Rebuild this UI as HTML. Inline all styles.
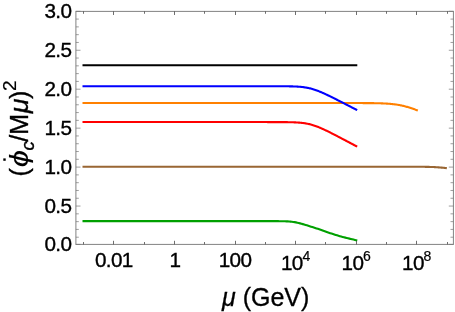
<!DOCTYPE html>
<html><head><meta charset="utf-8"><title>plot</title>
<style>html,body{margin:0;padding:0;background:#fff;overflow:hidden}svg{display:block;will-change:transform}.t{font-family:"Liberation Sans",sans-serif}</style>
</head><body>
<svg width="455" height="312" viewBox="0 0 455 312">
<rect width="455" height="312" fill="#fff"/>
<path d="M83.55 65.29 L84.31 65.29 L85.06 65.29 L85.82 65.29 L86.58 65.29 L87.34 65.29 L88.09 65.29 L88.85 65.29 L89.61 65.29 L90.37 65.29 L91.12 65.29 L91.88 65.29 L92.64 65.29 L93.40 65.29 L94.15 65.29 L94.91 65.29 L95.67 65.29 L96.43 65.29 L97.18 65.29 L97.94 65.29 L98.70 65.29 L99.46 65.29 L100.21 65.29 L100.97 65.29 L101.73 65.29 L102.49 65.29 L103.24 65.29 L104.00 65.29 L104.76 65.29 L105.52 65.29 L106.27 65.29 L107.03 65.29 L107.79 65.29 L108.55 65.29 L109.30 65.29 L110.06 65.29 L110.82 65.29 L111.58 65.29 L112.33 65.29 L113.09 65.29 L113.85 65.29 L114.61 65.29 L115.36 65.29 L116.12 65.29 L116.88 65.29 L117.64 65.29 L118.39 65.29 L119.15 65.29 L119.91 65.29 L120.67 65.29 L121.42 65.29 L122.18 65.29 L122.94 65.29 L123.70 65.29 L124.45 65.29 L125.21 65.29 L125.97 65.29 L126.73 65.29 L127.48 65.29 L128.24 65.29 L129.00 65.29 L129.76 65.29 L130.51 65.29 L131.27 65.29 L132.03 65.29 L132.79 65.29 L133.54 65.29 L134.30 65.29 L135.06 65.29 L135.82 65.29 L136.57 65.29 L137.33 65.29 L138.09 65.29 L138.85 65.29 L139.60 65.29 L140.36 65.29 L141.12 65.29 L141.88 65.29 L142.63 65.29 L143.39 65.29 L144.15 65.29 L144.91 65.29 L145.66 65.29 L146.42 65.29 L147.18 65.29 L147.94 65.29 L148.69 65.29 L149.45 65.29 L150.21 65.29 L150.97 65.29 L151.72 65.29 L152.48 65.29 L153.24 65.29 L154.00 65.29 L154.75 65.29 L155.51 65.29 L156.27 65.29 L157.03 65.29 L157.78 65.29 L158.54 65.29 L159.30 65.29 L160.06 65.29 L160.81 65.29 L161.57 65.29 L162.33 65.29 L163.09 65.29 L163.84 65.29 L164.60 65.29 L165.36 65.29 L166.12 65.29 L166.88 65.29 L167.63 65.29 L168.39 65.29 L169.15 65.29 L169.91 65.29 L170.66 65.29 L171.42 65.29 L172.18 65.29 L172.94 65.29 L173.69 65.29 L174.45 65.29 L175.21 65.29 L175.96 65.29 L176.72 65.29 L177.48 65.29 L178.24 65.29 L178.99 65.29 L179.75 65.29 L180.51 65.29 L181.27 65.29 L182.02 65.29 L182.78 65.29 L183.54 65.29 L184.30 65.29 L185.05 65.29 L185.81 65.29 L186.57 65.29 L187.33 65.29 L188.08 65.29 L188.84 65.29 L189.60 65.29 L190.36 65.29 L191.11 65.29 L191.87 65.29 L192.63 65.29 L193.39 65.29 L194.14 65.29 L194.90 65.29 L195.66 65.29 L196.42 65.29 L197.17 65.29 L197.93 65.29 L198.69 65.29 L199.45 65.29 L200.20 65.29 L200.96 65.29 L201.72 65.29 L202.48 65.29 L203.23 65.29 L203.99 65.29 L204.75 65.29 L205.51 65.29 L206.26 65.29 L207.02 65.29 L207.78 65.29 L208.54 65.29 L209.30 65.29 L210.05 65.29 L210.81 65.29 L211.57 65.29 L212.32 65.29 L213.08 65.29 L213.84 65.29 L214.60 65.29 L215.35 65.29 L216.11 65.29 L216.87 65.29 L217.63 65.29 L218.38 65.29 L219.14 65.29 L219.90 65.29 L220.66 65.29 L221.41 65.29 L222.17 65.29 L222.93 65.29 L223.69 65.29 L224.44 65.29 L225.20 65.29 L225.96 65.29 L226.72 65.29 L227.47 65.29 L228.23 65.29 L228.99 65.29 L229.75 65.29 L230.50 65.29 L231.26 65.29 L232.02 65.29 L232.78 65.29 L233.53 65.29 L234.29 65.29 L235.05 65.29 L235.81 65.29 L236.56 65.29 L237.32 65.29 L238.08 65.29 L238.84 65.29 L239.59 65.29 L240.35 65.29 L241.11 65.29 L241.87 65.29 L242.62 65.29 L243.38 65.29 L244.14 65.29 L244.90 65.29 L245.65 65.29 L246.41 65.29 L247.17 65.29 L247.93 65.29 L248.69 65.29 L249.44 65.29 L250.20 65.29 L250.96 65.29 L251.71 65.29 L252.47 65.29 L253.23 65.29 L253.99 65.29 L254.75 65.29 L255.50 65.29 L256.26 65.29 L257.02 65.29 L257.77 65.29 L258.53 65.29 L259.29 65.29 L260.05 65.29 L260.80 65.29 L261.56 65.29 L262.32 65.29 L263.08 65.29 L263.83 65.29 L264.59 65.29 L265.35 65.29 L266.11 65.29 L266.87 65.29 L267.62 65.29 L268.38 65.29 L269.14 65.29 L269.89 65.29 L270.65 65.29 L271.41 65.29 L272.17 65.29 L272.93 65.29 L273.68 65.29 L274.44 65.29 L275.20 65.29 L275.95 65.29 L276.71 65.29 L277.47 65.29 L278.23 65.29 L278.99 65.29 L279.74 65.29 L280.50 65.29 L281.26 65.29 L282.01 65.29 L282.77 65.29 L283.53 65.29 L284.29 65.29 L285.05 65.29 L285.80 65.29 L286.56 65.29 L287.32 65.29 L288.07 65.29 L288.83 65.29 L289.59 65.29 L290.35 65.29 L291.10 65.29 L291.86 65.29 L292.62 65.29 L293.38 65.29 L294.13 65.29 L294.89 65.29 L295.65 65.29 L296.41 65.29 L297.16 65.29 L297.92 65.29 L298.68 65.29 L299.44 65.29 L300.19 65.29 L300.95 65.29 L301.71 65.29 L302.47 65.29 L303.23 65.29 L303.98 65.29 L304.74 65.29 L305.50 65.29 L306.25 65.29 L307.01 65.29 L307.77 65.29 L308.53 65.29 L309.28 65.29 L310.04 65.29 L310.80 65.29 L311.56 65.29 L312.31 65.29 L313.07 65.29 L313.83 65.29 L314.59 65.29 L315.35 65.29 L316.10 65.29 L316.86 65.29 L317.62 65.29 L318.38 65.29 L319.13 65.29 L319.89 65.29 L320.65 65.29 L321.40 65.29 L322.16 65.29 L322.92 65.29 L323.68 65.29 L324.44 65.29 L325.19 65.29 L325.95 65.29 L326.71 65.29 L327.47 65.29 L328.22 65.29 L328.98 65.29 L329.74 65.29 L330.50 65.29 L331.25 65.29 L332.01 65.29 L332.77 65.29 L333.52 65.29 L334.28 65.29 L335.04 65.29 L335.80 65.29 L336.55 65.29 L337.31 65.29 L338.07 65.29 L338.83 65.29 L339.58 65.29 L340.34 65.29 L341.10 65.29 L341.86 65.29 L342.62 65.29 L343.37 65.29 L344.13 65.29 L344.89 65.29 L345.64 65.29 L346.40 65.29 L347.16 65.29 L347.92 65.29 L348.67 65.29 L349.43 65.29 L350.19 65.29 L350.95 65.29 L351.70 65.29 L352.46 65.29 L353.22 65.29 L353.98 65.29 L354.74 65.29 L355.49 65.29 L356.25 65.29" fill="none" stroke="#000000" stroke-width="2.1" stroke-linecap="square" stroke-linejoin="round"/>
<path d="M83.55 103.04 L84.31 103.04 L85.06 103.04 L85.82 103.04 L86.58 103.04 L87.34 103.04 L88.09 103.04 L88.85 103.04 L89.61 103.04 L90.37 103.04 L91.12 103.04 L91.88 103.04 L92.64 103.04 L93.40 103.04 L94.15 103.04 L94.91 103.04 L95.67 103.04 L96.43 103.04 L97.18 103.04 L97.94 103.04 L98.70 103.04 L99.46 103.04 L100.21 103.04 L100.97 103.04 L101.73 103.04 L102.49 103.04 L103.24 103.04 L104.00 103.04 L104.76 103.04 L105.52 103.04 L106.27 103.04 L107.03 103.04 L107.79 103.04 L108.55 103.04 L109.30 103.04 L110.06 103.04 L110.82 103.04 L111.58 103.04 L112.33 103.04 L113.09 103.04 L113.85 103.04 L114.61 103.04 L115.36 103.04 L116.12 103.04 L116.88 103.04 L117.64 103.04 L118.39 103.04 L119.15 103.04 L119.91 103.04 L120.67 103.04 L121.42 103.04 L122.18 103.04 L122.94 103.04 L123.70 103.04 L124.45 103.04 L125.21 103.04 L125.97 103.04 L126.73 103.04 L127.48 103.04 L128.24 103.04 L129.00 103.04 L129.76 103.04 L130.51 103.04 L131.27 103.04 L132.03 103.04 L132.79 103.04 L133.54 103.04 L134.30 103.04 L135.06 103.04 L135.82 103.04 L136.57 103.04 L137.33 103.04 L138.09 103.04 L138.85 103.04 L139.60 103.04 L140.36 103.04 L141.12 103.04 L141.88 103.04 L142.63 103.04 L143.39 103.04 L144.15 103.04 L144.91 103.04 L145.66 103.04 L146.42 103.04 L147.18 103.04 L147.94 103.04 L148.69 103.04 L149.45 103.04 L150.21 103.04 L150.97 103.04 L151.72 103.04 L152.48 103.04 L153.24 103.04 L154.00 103.04 L154.75 103.04 L155.51 103.04 L156.27 103.04 L157.03 103.04 L157.78 103.04 L158.54 103.04 L159.30 103.04 L160.06 103.04 L160.81 103.04 L161.57 103.04 L162.33 103.04 L163.09 103.04 L163.84 103.04 L164.60 103.04 L165.36 103.04 L166.12 103.04 L166.88 103.04 L167.63 103.04 L168.39 103.04 L169.15 103.04 L169.91 103.04 L170.66 103.04 L171.42 103.04 L172.18 103.04 L172.94 103.04 L173.69 103.04 L174.45 103.04 L175.21 103.04 L175.96 103.04 L176.72 103.04 L177.48 103.04 L178.24 103.04 L178.99 103.04 L179.75 103.04 L180.51 103.04 L181.27 103.04 L182.02 103.04 L182.78 103.04 L183.54 103.04 L184.30 103.04 L185.05 103.04 L185.81 103.04 L186.57 103.04 L187.33 103.04 L188.08 103.04 L188.84 103.04 L189.60 103.04 L190.36 103.04 L191.11 103.04 L191.87 103.04 L192.63 103.04 L193.39 103.04 L194.14 103.04 L194.90 103.04 L195.66 103.04 L196.42 103.04 L197.17 103.04 L197.93 103.04 L198.69 103.04 L199.45 103.04 L200.20 103.04 L200.96 103.04 L201.72 103.04 L202.48 103.04 L203.23 103.04 L203.99 103.04 L204.75 103.04 L205.51 103.04 L206.26 103.04 L207.02 103.04 L207.78 103.04 L208.54 103.04 L209.30 103.04 L210.05 103.04 L210.81 103.04 L211.57 103.04 L212.32 103.04 L213.08 103.04 L213.84 103.04 L214.60 103.04 L215.35 103.04 L216.11 103.04 L216.87 103.04 L217.63 103.04 L218.38 103.04 L219.14 103.04 L219.90 103.04 L220.66 103.04 L221.41 103.04 L222.17 103.04 L222.93 103.04 L223.69 103.04 L224.44 103.04 L225.20 103.04 L225.96 103.04 L226.72 103.04 L227.47 103.04 L228.23 103.04 L228.99 103.04 L229.75 103.04 L230.50 103.04 L231.26 103.04 L232.02 103.04 L232.78 103.04 L233.53 103.04 L234.29 103.04 L235.05 103.04 L235.81 103.04 L236.56 103.04 L237.32 103.04 L238.08 103.04 L238.84 103.04 L239.59 103.04 L240.35 103.04 L241.11 103.04 L241.87 103.04 L242.62 103.04 L243.38 103.04 L244.14 103.04 L244.90 103.04 L245.65 103.04 L246.41 103.04 L247.17 103.04 L247.93 103.04 L248.69 103.04 L249.44 103.04 L250.20 103.04 L250.96 103.04 L251.71 103.04 L252.47 103.04 L253.23 103.04 L253.99 103.04 L254.75 103.04 L255.50 103.04 L256.26 103.04 L257.02 103.04 L257.77 103.04 L258.53 103.04 L259.29 103.04 L260.05 103.04 L260.80 103.04 L261.56 103.04 L262.32 103.04 L263.08 103.04 L263.83 103.04 L264.59 103.04 L265.35 103.04 L266.11 103.04 L266.87 103.04 L267.62 103.04 L268.38 103.04 L269.14 103.04 L269.89 103.04 L270.65 103.04 L271.41 103.04 L272.17 103.04 L272.93 103.04 L273.68 103.04 L274.44 103.04 L275.20 103.04 L275.95 103.04 L276.71 103.04 L277.47 103.04 L278.23 103.04 L278.99 103.04 L279.74 103.04 L280.50 103.04 L281.26 103.04 L282.01 103.04 L282.77 103.04 L283.53 103.04 L284.29 103.04 L285.05 103.04 L285.80 103.04 L286.56 103.04 L287.32 103.04 L288.07 103.04 L288.83 103.04 L289.59 103.04 L290.35 103.04 L291.10 103.04 L291.86 103.04 L292.62 103.04 L293.38 103.04 L294.13 103.04 L294.89 103.04 L295.65 103.04 L296.41 103.04 L297.16 103.04 L297.92 103.04 L298.68 103.04 L299.44 103.04 L300.19 103.04 L300.95 103.04 L301.71 103.04 L302.47 103.04 L303.23 103.04 L303.98 103.04 L304.74 103.04 L305.50 103.04 L306.25 103.04 L307.01 103.04 L307.77 103.04 L308.53 103.04 L309.28 103.04 L310.04 103.04 L310.80 103.04 L311.56 103.04 L312.31 103.04 L313.07 103.04 L313.83 103.04 L314.59 103.04 L315.35 103.04 L316.10 103.04 L316.86 103.04 L317.62 103.04 L318.38 103.04 L319.13 103.04 L319.89 103.04 L320.65 103.04 L321.40 103.04 L322.16 103.04 L322.92 103.04 L323.68 103.04 L324.44 103.04 L325.19 103.04 L325.95 103.04 L326.71 103.04 L327.47 103.04 L328.22 103.04 L328.98 103.04 L329.74 103.04 L330.50 103.04 L331.25 103.04 L332.01 103.04 L332.77 103.04 L333.52 103.04 L334.28 103.04 L335.04 103.04 L335.80 103.04 L336.55 103.04 L337.31 103.04 L338.07 103.04 L338.83 103.04 L339.58 103.04 L340.34 103.04 L341.10 103.04 L341.86 103.04 L342.62 103.04 L343.37 103.04 L344.13 103.04 L344.89 103.04 L345.64 103.05 L346.40 103.05 L347.16 103.05 L347.92 103.05 L348.67 103.05 L349.43 103.05 L350.19 103.05 L350.95 103.05 L351.70 103.05 L352.46 103.05 L353.22 103.05 L353.98 103.05 L354.74 103.05 L355.49 103.06 L356.25 103.06 L357.01 103.06 L357.76 103.06 L358.52 103.06 L359.28 103.06 L360.04 103.07 L360.80 103.07 L361.55 103.07 L362.31 103.07 L363.07 103.08 L363.82 103.08 L364.58 103.08 L365.34 103.09 L366.10 103.09 L366.86 103.10 L367.61 103.10 L368.37 103.11 L369.13 103.12 L369.88 103.12 L370.64 103.13 L371.40 103.14 L372.16 103.15 L372.92 103.16 L373.67 103.17 L374.43 103.18 L375.19 103.19 L375.94 103.21 L376.70 103.22 L377.46 103.24 L378.22 103.26 L378.98 103.28 L379.73 103.30 L380.49 103.32 L381.25 103.35 L382.00 103.37 L382.76 103.40 L383.52 103.44 L384.28 103.47 L385.03 103.51 L385.79 103.55 L386.55 103.59 L387.31 103.64 L388.07 103.69 L388.82 103.75 L389.58 103.81 L390.34 103.87 L391.10 103.94 L391.85 104.01 L392.61 104.09 L393.37 104.18 L394.12 104.27 L394.88 104.37 L395.64 104.47 L396.40 104.58 L397.15 104.70 L397.91 104.82 L398.67 104.95 L399.43 105.09 L400.18 105.23 L400.94 105.39 L401.70 105.55 L402.46 105.71 L403.22 105.89 L403.97 106.07 L404.73 106.26 L405.49 106.46 L406.25 106.66 L407.00 106.88 L407.76 107.10 L408.52 107.32 L409.27 107.55 L410.03 107.79 L410.79 108.04 L411.55 108.29 L412.30 108.55 L413.06 108.81 L413.82 109.08 L414.58 109.35 L415.33 109.63 L416.09 109.91 L416.85 110.20" fill="none" stroke="#ff8000" stroke-width="2.1" stroke-linecap="square" stroke-linejoin="round"/>
<path d="M83.55 86.19 L84.31 86.19 L85.06 86.19 L85.82 86.19 L86.58 86.19 L87.34 86.19 L88.09 86.19 L88.85 86.19 L89.61 86.19 L90.37 86.19 L91.12 86.19 L91.88 86.19 L92.64 86.19 L93.40 86.19 L94.15 86.19 L94.91 86.19 L95.67 86.19 L96.43 86.19 L97.18 86.19 L97.94 86.19 L98.70 86.19 L99.46 86.19 L100.21 86.19 L100.97 86.19 L101.73 86.19 L102.49 86.19 L103.24 86.19 L104.00 86.19 L104.76 86.19 L105.52 86.19 L106.27 86.19 L107.03 86.19 L107.79 86.19 L108.55 86.19 L109.30 86.19 L110.06 86.19 L110.82 86.19 L111.58 86.19 L112.33 86.19 L113.09 86.19 L113.85 86.19 L114.61 86.19 L115.36 86.19 L116.12 86.19 L116.88 86.19 L117.64 86.19 L118.39 86.19 L119.15 86.19 L119.91 86.19 L120.67 86.19 L121.42 86.19 L122.18 86.19 L122.94 86.19 L123.70 86.19 L124.45 86.19 L125.21 86.19 L125.97 86.19 L126.73 86.19 L127.48 86.19 L128.24 86.19 L129.00 86.19 L129.76 86.19 L130.51 86.19 L131.27 86.19 L132.03 86.19 L132.79 86.19 L133.54 86.19 L134.30 86.19 L135.06 86.19 L135.82 86.19 L136.57 86.19 L137.33 86.19 L138.09 86.19 L138.85 86.19 L139.60 86.19 L140.36 86.19 L141.12 86.19 L141.88 86.19 L142.63 86.19 L143.39 86.19 L144.15 86.19 L144.91 86.19 L145.66 86.19 L146.42 86.19 L147.18 86.19 L147.94 86.19 L148.69 86.19 L149.45 86.19 L150.21 86.19 L150.97 86.19 L151.72 86.19 L152.48 86.19 L153.24 86.19 L154.00 86.19 L154.75 86.19 L155.51 86.19 L156.27 86.19 L157.03 86.19 L157.78 86.19 L158.54 86.19 L159.30 86.19 L160.06 86.19 L160.81 86.19 L161.57 86.19 L162.33 86.19 L163.09 86.19 L163.84 86.19 L164.60 86.19 L165.36 86.19 L166.12 86.19 L166.88 86.19 L167.63 86.19 L168.39 86.19 L169.15 86.19 L169.91 86.19 L170.66 86.19 L171.42 86.19 L172.18 86.19 L172.94 86.19 L173.69 86.19 L174.45 86.19 L175.21 86.19 L175.96 86.19 L176.72 86.19 L177.48 86.19 L178.24 86.19 L178.99 86.19 L179.75 86.19 L180.51 86.19 L181.27 86.19 L182.02 86.19 L182.78 86.19 L183.54 86.19 L184.30 86.19 L185.05 86.19 L185.81 86.19 L186.57 86.19 L187.33 86.19 L188.08 86.19 L188.84 86.19 L189.60 86.19 L190.36 86.19 L191.11 86.19 L191.87 86.19 L192.63 86.19 L193.39 86.19 L194.14 86.19 L194.90 86.19 L195.66 86.19 L196.42 86.19 L197.17 86.19 L197.93 86.19 L198.69 86.19 L199.45 86.19 L200.20 86.19 L200.96 86.19 L201.72 86.19 L202.48 86.19 L203.23 86.19 L203.99 86.19 L204.75 86.19 L205.51 86.19 L206.26 86.19 L207.02 86.19 L207.78 86.19 L208.54 86.19 L209.30 86.19 L210.05 86.19 L210.81 86.19 L211.57 86.19 L212.32 86.19 L213.08 86.19 L213.84 86.19 L214.60 86.19 L215.35 86.19 L216.11 86.19 L216.87 86.19 L217.63 86.19 L218.38 86.19 L219.14 86.19 L219.90 86.19 L220.66 86.19 L221.41 86.19 L222.17 86.19 L222.93 86.19 L223.69 86.19 L224.44 86.19 L225.20 86.19 L225.96 86.19 L226.72 86.19 L227.47 86.19 L228.23 86.19 L228.99 86.19 L229.75 86.19 L230.50 86.19 L231.26 86.19 L232.02 86.19 L232.78 86.19 L233.53 86.19 L234.29 86.19 L235.05 86.19 L235.81 86.19 L236.56 86.19 L237.32 86.19 L238.08 86.19 L238.84 86.19 L239.59 86.19 L240.35 86.19 L241.11 86.19 L241.87 86.19 L242.62 86.19 L243.38 86.19 L244.14 86.19 L244.90 86.19 L245.65 86.19 L246.41 86.19 L247.17 86.19 L247.93 86.19 L248.69 86.19 L249.44 86.19 L250.20 86.19 L250.96 86.19 L251.71 86.19 L252.47 86.19 L253.23 86.19 L253.99 86.19 L254.75 86.19 L255.50 86.19 L256.26 86.19 L257.02 86.19 L257.77 86.19 L258.53 86.19 L259.29 86.19 L260.05 86.19 L260.80 86.19 L261.56 86.19 L262.32 86.19 L263.08 86.19 L263.83 86.19 L264.59 86.19 L265.35 86.19 L266.11 86.19 L266.87 86.19 L267.62 86.19 L268.38 86.19 L269.14 86.19 L269.89 86.19 L270.65 86.19 L271.41 86.20 L272.17 86.20 L272.93 86.20 L273.68 86.20 L274.44 86.20 L275.20 86.20 L275.95 86.20 L276.71 86.21 L277.47 86.21 L278.23 86.21 L278.99 86.22 L279.74 86.22 L280.50 86.22 L281.26 86.23 L282.01 86.23 L282.77 86.24 L283.53 86.24 L284.29 86.25 L285.05 86.26 L285.80 86.27 L286.56 86.28 L287.32 86.29 L288.07 86.30 L288.83 86.31 L289.59 86.33 L290.35 86.34 L291.10 86.36 L291.86 86.38 L292.62 86.40 L293.38 86.43 L294.13 86.46 L294.89 86.49 L295.65 86.52 L296.41 86.56 L297.16 86.60 L297.92 86.65 L298.68 86.70 L299.44 86.76 L300.19 86.82 L300.95 86.89 L301.71 86.97 L302.47 87.05 L303.23 87.14 L303.98 87.24 L304.74 87.35 L305.50 87.47 L306.25 87.60 L307.01 87.73 L307.77 87.88 L308.53 88.04 L309.28 88.20 L310.04 88.38 L310.80 88.57 L311.56 88.77 L312.31 88.99 L313.07 89.21 L313.83 89.44 L314.59 89.69 L315.35 89.94 L316.10 90.21 L316.86 90.48 L317.62 90.77 L318.38 91.06 L319.13 91.36 L319.89 91.67 L320.65 91.98 L321.40 92.30 L322.16 92.63 L322.92 92.96 L323.68 93.30 L324.44 93.65 L325.19 94.00 L325.95 94.35 L326.71 94.71 L327.47 95.07 L328.22 95.43 L328.98 95.79 L329.74 96.16 L330.50 96.53 L331.25 96.91 L332.01 97.28 L332.77 97.66 L333.52 98.04 L334.28 98.42 L335.04 98.80 L335.80 99.18 L336.55 99.56 L337.31 99.94 L338.07 100.33 L338.83 100.71 L339.58 101.10 L340.34 101.49 L341.10 101.87 L341.86 102.26 L342.62 102.65 L343.37 103.04 L344.13 103.42 L344.89 103.81 L345.64 104.20 L346.40 104.59 L347.16 104.98 L347.92 105.37 L348.67 105.76 L349.43 106.15 L350.19 106.54 L350.95 106.93 L351.70 107.32 L352.46 107.71 L353.22 108.10 L353.98 108.49 L354.74 108.88 L355.49 109.27 L356.25 109.67" fill="none" stroke="#0000ff" stroke-width="2.1" stroke-linecap="square" stroke-linejoin="round"/>
<path d="M83.55 122.07 L84.31 122.07 L85.06 122.07 L85.82 122.07 L86.58 122.07 L87.34 122.07 L88.09 122.07 L88.85 122.07 L89.61 122.07 L90.37 122.07 L91.12 122.07 L91.88 122.07 L92.64 122.07 L93.40 122.07 L94.15 122.07 L94.91 122.07 L95.67 122.07 L96.43 122.07 L97.18 122.07 L97.94 122.07 L98.70 122.07 L99.46 122.07 L100.21 122.07 L100.97 122.07 L101.73 122.07 L102.49 122.07 L103.24 122.07 L104.00 122.07 L104.76 122.07 L105.52 122.07 L106.27 122.07 L107.03 122.07 L107.79 122.07 L108.55 122.07 L109.30 122.07 L110.06 122.07 L110.82 122.07 L111.58 122.07 L112.33 122.07 L113.09 122.07 L113.85 122.07 L114.61 122.07 L115.36 122.07 L116.12 122.07 L116.88 122.07 L117.64 122.07 L118.39 122.07 L119.15 122.07 L119.91 122.07 L120.67 122.07 L121.42 122.07 L122.18 122.07 L122.94 122.07 L123.70 122.07 L124.45 122.07 L125.21 122.07 L125.97 122.07 L126.73 122.07 L127.48 122.07 L128.24 122.07 L129.00 122.07 L129.76 122.07 L130.51 122.07 L131.27 122.07 L132.03 122.07 L132.79 122.07 L133.54 122.07 L134.30 122.07 L135.06 122.07 L135.82 122.07 L136.57 122.07 L137.33 122.07 L138.09 122.07 L138.85 122.07 L139.60 122.07 L140.36 122.07 L141.12 122.07 L141.88 122.07 L142.63 122.07 L143.39 122.07 L144.15 122.07 L144.91 122.07 L145.66 122.07 L146.42 122.07 L147.18 122.07 L147.94 122.07 L148.69 122.07 L149.45 122.07 L150.21 122.07 L150.97 122.07 L151.72 122.07 L152.48 122.07 L153.24 122.07 L154.00 122.07 L154.75 122.07 L155.51 122.07 L156.27 122.07 L157.03 122.07 L157.78 122.07 L158.54 122.07 L159.30 122.07 L160.06 122.07 L160.81 122.07 L161.57 122.07 L162.33 122.07 L163.09 122.07 L163.84 122.07 L164.60 122.07 L165.36 122.07 L166.12 122.07 L166.88 122.07 L167.63 122.07 L168.39 122.07 L169.15 122.07 L169.91 122.07 L170.66 122.07 L171.42 122.07 L172.18 122.07 L172.94 122.07 L173.69 122.07 L174.45 122.07 L175.21 122.07 L175.96 122.07 L176.72 122.07 L177.48 122.07 L178.24 122.07 L178.99 122.07 L179.75 122.07 L180.51 122.07 L181.27 122.07 L182.02 122.07 L182.78 122.07 L183.54 122.07 L184.30 122.07 L185.05 122.07 L185.81 122.07 L186.57 122.07 L187.33 122.07 L188.08 122.07 L188.84 122.07 L189.60 122.07 L190.36 122.07 L191.11 122.07 L191.87 122.07 L192.63 122.07 L193.39 122.07 L194.14 122.07 L194.90 122.07 L195.66 122.07 L196.42 122.07 L197.17 122.07 L197.93 122.07 L198.69 122.07 L199.45 122.07 L200.20 122.07 L200.96 122.07 L201.72 122.07 L202.48 122.07 L203.23 122.07 L203.99 122.07 L204.75 122.07 L205.51 122.07 L206.26 122.07 L207.02 122.07 L207.78 122.07 L208.54 122.07 L209.30 122.07 L210.05 122.07 L210.81 122.07 L211.57 122.07 L212.32 122.07 L213.08 122.07 L213.84 122.07 L214.60 122.07 L215.35 122.07 L216.11 122.07 L216.87 122.07 L217.63 122.07 L218.38 122.07 L219.14 122.07 L219.90 122.07 L220.66 122.07 L221.41 122.07 L222.17 122.07 L222.93 122.07 L223.69 122.07 L224.44 122.07 L225.20 122.07 L225.96 122.07 L226.72 122.07 L227.47 122.07 L228.23 122.07 L228.99 122.07 L229.75 122.07 L230.50 122.07 L231.26 122.07 L232.02 122.07 L232.78 122.07 L233.53 122.07 L234.29 122.07 L235.05 122.07 L235.81 122.07 L236.56 122.07 L237.32 122.07 L238.08 122.07 L238.84 122.07 L239.59 122.07 L240.35 122.07 L241.11 122.07 L241.87 122.07 L242.62 122.07 L243.38 122.07 L244.14 122.07 L244.90 122.07 L245.65 122.07 L246.41 122.07 L247.17 122.07 L247.93 122.07 L248.69 122.07 L249.44 122.07 L250.20 122.07 L250.96 122.07 L251.71 122.07 L252.47 122.07 L253.23 122.07 L253.99 122.07 L254.75 122.07 L255.50 122.07 L256.26 122.07 L257.02 122.07 L257.77 122.07 L258.53 122.07 L259.29 122.07 L260.05 122.07 L260.80 122.07 L261.56 122.07 L262.32 122.07 L263.08 122.07 L263.83 122.07 L264.59 122.07 L265.35 122.07 L266.11 122.07 L266.87 122.07 L267.62 122.08 L268.38 122.08 L269.14 122.08 L269.89 122.08 L270.65 122.08 L271.41 122.08 L272.17 122.08 L272.93 122.08 L273.68 122.08 L274.44 122.08 L275.20 122.09 L275.95 122.09 L276.71 122.09 L277.47 122.09 L278.23 122.10 L278.99 122.10 L279.74 122.10 L280.50 122.11 L281.26 122.11 L282.01 122.12 L282.77 122.12 L283.53 122.13 L284.29 122.14 L285.05 122.14 L285.80 122.15 L286.56 122.16 L287.32 122.17 L288.07 122.18 L288.83 122.20 L289.59 122.21 L290.35 122.23 L291.10 122.25 L291.86 122.27 L292.62 122.29 L293.38 122.32 L294.13 122.35 L294.89 122.38 L295.65 122.42 L296.41 122.46 L297.16 122.50 L297.92 122.55 L298.68 122.60 L299.44 122.66 L300.19 122.72 L300.95 122.80 L301.71 122.87 L302.47 122.96 L303.23 123.05 L303.98 123.15 L304.74 123.27 L305.50 123.39 L306.25 123.52 L307.01 123.66 L307.77 123.81 L308.53 123.97 L309.28 124.14 L310.04 124.32 L310.80 124.52 L311.56 124.72 L312.31 124.94 L313.07 125.17 L313.83 125.41 L314.59 125.66 L315.35 125.92 L316.10 126.19 L316.86 126.48 L317.62 126.77 L318.38 127.07 L319.13 127.37 L319.89 127.69 L320.65 128.01 L321.40 128.34 L322.16 128.68 L322.92 129.02 L323.68 129.37 L324.44 129.72 L325.19 130.08 L325.95 130.44 L326.71 130.81 L327.47 131.18 L328.22 131.55 L328.98 131.93 L329.74 132.30 L330.50 132.68 L331.25 133.07 L332.01 133.45 L332.77 133.84 L333.52 134.23 L334.28 134.61 L335.04 135.01 L335.80 135.40 L336.55 135.79 L337.31 136.18 L338.07 136.58 L338.83 136.97 L339.58 137.37 L340.34 137.76 L341.10 138.16 L341.86 138.56 L342.62 138.96 L343.37 139.35 L344.13 139.75 L344.89 140.15 L345.64 140.55 L346.40 140.95 L347.16 141.35 L347.92 141.75 L348.67 142.15 L349.43 142.55 L350.19 142.95 L350.95 143.35 L351.70 143.75 L352.46 144.15 L353.22 144.55 L353.98 144.95 L354.74 145.35 L355.49 145.75 L356.25 146.16" fill="none" stroke="#ff0000" stroke-width="2.1" stroke-linecap="square" stroke-linejoin="round"/>
<path d="M83.55 166.73 L84.31 166.73 L85.07 166.73 L85.82 166.73 L86.58 166.73 L87.34 166.73 L88.10 166.73 L88.85 166.73 L89.61 166.73 L90.37 166.73 L91.13 166.73 L91.89 166.73 L92.64 166.73 L93.40 166.73 L94.16 166.73 L94.92 166.73 L95.68 166.73 L96.43 166.73 L97.19 166.73 L97.95 166.73 L98.71 166.73 L99.46 166.73 L100.22 166.73 L100.98 166.73 L101.74 166.73 L102.50 166.73 L103.25 166.73 L104.01 166.73 L104.77 166.73 L105.53 166.73 L106.28 166.73 L107.04 166.73 L107.80 166.73 L108.56 166.73 L109.32 166.73 L110.07 166.73 L110.83 166.73 L111.59 166.73 L112.35 166.73 L113.10 166.73 L113.86 166.73 L114.62 166.73 L115.38 166.73 L116.14 166.73 L116.89 166.73 L117.65 166.73 L118.41 166.73 L119.17 166.73 L119.93 166.73 L120.68 166.73 L121.44 166.73 L122.20 166.73 L122.96 166.73 L123.71 166.73 L124.47 166.73 L125.23 166.73 L125.99 166.73 L126.75 166.73 L127.50 166.73 L128.26 166.73 L129.02 166.73 L129.78 166.73 L130.53 166.73 L131.29 166.73 L132.05 166.73 L132.81 166.73 L133.57 166.73 L134.32 166.73 L135.08 166.73 L135.84 166.73 L136.60 166.73 L137.36 166.73 L138.11 166.73 L138.87 166.73 L139.63 166.73 L140.39 166.73 L141.14 166.73 L141.90 166.73 L142.66 166.73 L143.42 166.73 L144.18 166.73 L144.93 166.73 L145.69 166.73 L146.45 166.73 L147.21 166.73 L147.96 166.73 L148.72 166.73 L149.48 166.73 L150.24 166.73 L151.00 166.73 L151.75 166.73 L152.51 166.73 L153.27 166.73 L154.03 166.73 L154.78 166.73 L155.54 166.73 L156.30 166.73 L157.06 166.73 L157.82 166.73 L158.57 166.73 L159.33 166.73 L160.09 166.73 L160.85 166.73 L161.61 166.73 L162.36 166.73 L163.12 166.73 L163.88 166.73 L164.64 166.73 L165.39 166.73 L166.15 166.73 L166.91 166.73 L167.67 166.73 L168.43 166.73 L169.18 166.73 L169.94 166.73 L170.70 166.73 L171.46 166.73 L172.21 166.73 L172.97 166.73 L173.73 166.73 L174.49 166.73 L175.25 166.73 L176.00 166.73 L176.76 166.73 L177.52 166.73 L178.28 166.73 L179.03 166.73 L179.79 166.73 L180.55 166.73 L181.31 166.73 L182.07 166.73 L182.82 166.73 L183.58 166.73 L184.34 166.73 L185.10 166.73 L185.86 166.73 L186.61 166.73 L187.37 166.73 L188.13 166.73 L188.89 166.73 L189.64 166.73 L190.40 166.73 L191.16 166.73 L191.92 166.73 L192.68 166.73 L193.43 166.73 L194.19 166.73 L194.95 166.73 L195.71 166.73 L196.46 166.73 L197.22 166.73 L197.98 166.73 L198.74 166.73 L199.50 166.73 L200.25 166.73 L201.01 166.73 L201.77 166.73 L202.53 166.73 L203.29 166.73 L204.04 166.73 L204.80 166.73 L205.56 166.73 L206.32 166.73 L207.07 166.73 L207.83 166.73 L208.59 166.73 L209.35 166.73 L210.11 166.73 L210.86 166.73 L211.62 166.73 L212.38 166.73 L213.14 166.73 L213.89 166.73 L214.65 166.73 L215.41 166.73 L216.17 166.73 L216.93 166.73 L217.68 166.73 L218.44 166.73 L219.20 166.73 L219.96 166.73 L220.71 166.73 L221.47 166.73 L222.23 166.73 L222.99 166.73 L223.75 166.73 L224.50 166.73 L225.26 166.73 L226.02 166.73 L226.78 166.73 L227.54 166.73 L228.29 166.73 L229.05 166.73 L229.81 166.73 L230.57 166.73 L231.32 166.73 L232.08 166.73 L232.84 166.73 L233.60 166.73 L234.36 166.73 L235.11 166.73 L235.87 166.73 L236.63 166.73 L237.39 166.73 L238.14 166.73 L238.90 166.73 L239.66 166.73 L240.42 166.73 L241.18 166.73 L241.93 166.73 L242.69 166.73 L243.45 166.73 L244.21 166.73 L244.97 166.73 L245.72 166.73 L246.48 166.73 L247.24 166.73 L248.00 166.73 L248.75 166.73 L249.51 166.73 L250.27 166.73 L251.03 166.73 L251.79 166.73 L252.54 166.73 L253.30 166.73 L254.06 166.73 L254.82 166.73 L255.57 166.73 L256.33 166.73 L257.09 166.73 L257.85 166.73 L258.61 166.73 L259.36 166.73 L260.12 166.73 L260.88 166.73 L261.64 166.73 L262.39 166.73 L263.15 166.73 L263.91 166.73 L264.67 166.73 L265.43 166.73 L266.18 166.73 L266.94 166.73 L267.70 166.73 L268.46 166.73 L269.22 166.73 L269.97 166.73 L270.73 166.73 L271.49 166.73 L272.25 166.73 L273.00 166.73 L273.76 166.73 L274.52 166.73 L275.28 166.73 L276.04 166.73 L276.79 166.73 L277.55 166.73 L278.31 166.73 L279.07 166.73 L279.82 166.73 L280.58 166.73 L281.34 166.73 L282.10 166.73 L282.86 166.73 L283.61 166.73 L284.37 166.73 L285.13 166.73 L285.89 166.73 L286.64 166.73 L287.40 166.73 L288.16 166.73 L288.92 166.73 L289.68 166.73 L290.43 166.73 L291.19 166.73 L291.95 166.73 L292.71 166.73 L293.47 166.73 L294.22 166.73 L294.98 166.73 L295.74 166.73 L296.50 166.73 L297.25 166.73 L298.01 166.73 L298.77 166.73 L299.53 166.73 L300.29 166.73 L301.04 166.73 L301.80 166.73 L302.56 166.73 L303.32 166.73 L304.07 166.73 L304.83 166.73 L305.59 166.73 L306.35 166.73 L307.11 166.73 L307.86 166.73 L308.62 166.73 L309.38 166.73 L310.14 166.73 L310.90 166.73 L311.65 166.73 L312.41 166.73 L313.17 166.73 L313.93 166.73 L314.68 166.73 L315.44 166.73 L316.20 166.73 L316.96 166.73 L317.72 166.73 L318.47 166.73 L319.23 166.73 L319.99 166.73 L320.75 166.73 L321.50 166.73 L322.26 166.73 L323.02 166.73 L323.78 166.73 L324.54 166.73 L325.29 166.73 L326.05 166.73 L326.81 166.73 L327.57 166.73 L328.32 166.73 L329.08 166.73 L329.84 166.73 L330.60 166.73 L331.36 166.73 L332.11 166.73 L332.87 166.73 L333.63 166.73 L334.39 166.73 L335.15 166.73 L335.90 166.73 L336.66 166.73 L337.42 166.73 L338.18 166.73 L338.93 166.73 L339.69 166.73 L340.45 166.73 L341.21 166.73 L341.97 166.73 L342.72 166.73 L343.48 166.73 L344.24 166.73 L345.00 166.73 L345.75 166.73 L346.51 166.73 L347.27 166.73 L348.03 166.73 L348.79 166.73 L349.54 166.73 L350.30 166.73 L351.06 166.73 L351.82 166.73 L352.58 166.73 L353.33 166.73 L354.09 166.73 L354.85 166.73 L355.61 166.73 L356.36 166.73 L357.12 166.73 L357.88 166.73 L358.64 166.73 L359.40 166.73 L360.15 166.73 L360.91 166.73 L361.67 166.73 L362.43 166.73 L363.18 166.73 L363.94 166.73 L364.70 166.73 L365.46 166.73 L366.22 166.73 L366.97 166.73 L367.73 166.73 L368.49 166.73 L369.25 166.73 L370.00 166.73 L370.76 166.73 L371.52 166.73 L372.28 166.73 L373.04 166.73 L373.79 166.73 L374.55 166.73 L375.31 166.73 L376.07 166.73 L376.83 166.73 L377.58 166.73 L378.34 166.73 L379.10 166.73 L379.86 166.73 L380.61 166.73 L381.37 166.73 L382.13 166.73 L382.89 166.73 L383.65 166.73 L384.40 166.73 L385.16 166.73 L385.92 166.73 L386.68 166.73 L387.43 166.73 L388.19 166.73 L388.95 166.73 L389.71 166.73 L390.47 166.73 L391.22 166.73 L391.98 166.73 L392.74 166.73 L393.50 166.73 L394.25 166.73 L395.01 166.73 L395.77 166.73 L396.53 166.73 L397.29 166.73 L398.04 166.73 L398.80 166.73 L399.56 166.73 L400.32 166.73 L401.08 166.73 L401.83 166.73 L402.59 166.73 L403.35 166.73 L404.11 166.73 L404.86 166.73 L405.62 166.73 L406.38 166.73 L407.14 166.74 L407.90 166.74 L408.65 166.74 L409.41 166.74 L410.17 166.74 L410.93 166.74 L411.68 166.74 L412.44 166.74 L413.20 166.74 L413.96 166.75 L414.72 166.75 L415.47 166.75 L416.23 166.75 L416.99 166.76 L417.75 166.76 L418.51 166.76 L419.26 166.77 L420.02 166.77 L420.78 166.78 L421.54 166.78 L422.29 166.79 L423.05 166.80 L423.81 166.81 L424.57 166.82 L425.33 166.83 L426.08 166.84 L426.84 166.85 L427.60 166.87 L428.36 166.89 L429.11 166.91 L429.87 166.93 L430.63 166.95 L431.39 166.98 L432.15 167.00 L432.90 167.03 L433.66 167.07 L434.42 167.10 L435.18 167.14 L435.93 167.19 L436.69 167.23 L437.45 167.28 L438.21 167.33 L438.97 167.39 L439.72 167.45 L440.48 167.51 L441.24 167.58 L442.00 167.64 L442.76 167.72 L443.51 167.79 L444.27 167.87 L445.03 167.95 L445.79 168.03" fill="none" stroke="#996633" stroke-width="2.1" stroke-linecap="square" stroke-linejoin="round"/>
<path d="M83.55 221.10 L84.92 221.10 L86.29 221.10 L87.66 221.10 L89.03 221.10 L90.40 221.10 L91.77 221.10 L93.14 221.10 L94.51 221.10 L95.88 221.10 L97.25 221.10 L98.62 221.10 L99.99 221.10 L101.36 221.10 L102.73 221.10 L104.11 221.10 L105.48 221.10 L106.85 221.10 L108.22 221.10 L109.59 221.10 L110.96 221.10 L112.33 221.10 L113.70 221.10 L115.07 221.10 L116.44 221.10 L117.81 221.10 L119.18 221.10 L120.55 221.10 L121.92 221.10 L123.29 221.10 L124.66 221.10 L126.03 221.10 L127.40 221.10 L128.77 221.10 L130.14 221.10 L131.51 221.10 L132.88 221.10 L134.25 221.10 L135.62 221.10 L136.99 221.10 L138.36 221.10 L139.73 221.10 L141.10 221.10 L142.48 221.10 L143.85 221.10 L145.22 221.10 L146.59 221.10 L147.96 221.10 L149.33 221.10 L150.70 221.10 L152.07 221.10 L153.44 221.10 L154.81 221.10 L156.18 221.10 L157.55 221.10 L158.92 221.10 L160.29 221.10 L161.66 221.10 L163.03 221.10 L164.40 221.10 L165.77 221.10 L167.14 221.10 L168.51 221.10 L169.88 221.10 L171.25 221.10 L172.62 221.10 L173.99 221.10 L175.36 221.10 L176.73 221.10 L178.10 221.10 L179.47 221.10 L180.84 221.10 L182.22 221.10 L183.59 221.10 L184.96 221.10 L186.33 221.10 L187.70 221.10 L189.07 221.10 L190.44 221.10 L191.81 221.10 L193.18 221.10 L194.55 221.10 L195.92 221.10 L197.29 221.10 L198.66 221.10 L200.03 221.10 L201.40 221.10 L202.77 221.10 L204.14 221.10 L205.51 221.10 L206.88 221.10 L208.25 221.10 L209.62 221.10 L210.99 221.10 L212.36 221.10 L213.73 221.10 L215.10 221.10 L216.47 221.10 L217.84 221.10 L219.21 221.10 L220.59 221.10 L221.96 221.10 L223.33 221.10 L224.70 221.10 L226.07 221.10 L227.44 221.10 L228.81 221.10 L230.18 221.10 L231.55 221.10 L232.92 221.10 L234.29 221.10 L235.66 221.10 L237.03 221.10 L238.40 221.10 L239.77 221.10 L241.14 221.10 L242.51 221.10 L243.88 221.10 L245.25 221.10 L246.62 221.10 L247.99 221.10 L249.36 221.10 L250.73 221.10 L252.10 221.10 L253.47 221.10 L254.84 221.10 L256.21 221.10 L257.58 221.10 L258.96 221.10 L260.33 221.10 L261.70 221.10 L263.07 221.10 L264.44 221.10 L265.81 221.10 L267.18 221.10 L268.55 221.10 L269.92 221.11 L271.29 221.12 L272.66 221.12 L274.03 221.13 L275.40 221.14 L276.77 221.16 L278.14 221.17 L279.51 221.18 L280.88 221.21 L282.25 221.23 L283.62 221.27 L284.99 221.31 L286.36 221.35 L287.73 221.42 L289.10 221.52 L290.47 221.65 L291.84 221.79 L293.21 221.95 L294.58 222.14 L295.95 222.38 L297.32 222.69 L298.70 223.03 L300.07 223.39 L301.44 223.76 L302.81 224.13 L304.18 224.52 L305.55 224.93 L306.92 225.36 L308.29 225.79 L309.66 226.22 L311.03 226.64 L312.40 227.07 L313.77 227.50 L315.14 227.94 L316.51 228.39 L317.88 228.85 L319.25 229.33 L320.62 229.82 L321.99 230.31 L323.36 230.80 L324.73 231.27 L326.10 231.75 L327.47 232.22 L328.84 232.68 L330.21 233.14 L331.58 233.60 L332.95 234.04 L334.32 234.48 L335.69 234.92 L337.07 235.35 L338.44 235.76 L339.81 236.16 L341.18 236.54 L342.55 236.91 L343.92 237.27 L345.29 237.62 L346.66 237.96 L348.03 238.30 L349.40 238.63 L350.77 238.96 L352.14 239.28 L353.51 239.59 L354.88 239.90 L356.25 240.21" fill="none" stroke="#00a000" stroke-width="2.1" stroke-linecap="square" stroke-linejoin="round"/>
<rect x="75.90" y="11.39" width="377.50" height="233.01" fill="none" stroke="#828282" stroke-width="1"/>
<path d="M83.50 244.40 v-2.40 M83.50 11.39 v2.40 M113.50 244.40 v-3.60 M113.50 11.39 v3.60 M144.50 244.40 v-2.40 M144.50 11.39 v2.40 M174.50 244.40 v-3.60 M174.50 11.39 v3.60 M204.50 244.40 v-2.40 M204.50 11.39 v2.40 M235.50 244.40 v-3.60 M235.50 11.39 v3.60 M265.50 244.40 v-2.40 M265.50 11.39 v2.40 M295.50 244.40 v-3.60 M295.50 11.39 v3.60 M325.50 244.40 v-2.40 M325.50 11.39 v2.40 M356.50 244.40 v-3.60 M356.50 11.39 v3.60 M386.50 244.40 v-2.40 M386.50 11.39 v2.40 M416.50 244.40 v-3.60 M416.50 11.39 v3.60 M447.50 244.40 v-2.40 M447.50 11.39 v2.40" fill="none" stroke="#444" stroke-width="0.78"/>
<path d="M75.90 244.40 h4.60 M453.40 244.40 h-4.60 M75.90 237.21 h2.90 M453.40 237.21 h-2.90 M75.90 229.42 h2.90 M453.40 229.42 h-2.90 M75.90 221.63 h2.90 M453.40 221.63 h-2.90 M75.90 213.84 h2.90 M453.40 213.84 h-2.90 M75.90 206.05 h4.60 M453.40 206.05 h-4.60 M75.90 198.26 h2.90 M453.40 198.26 h-2.90 M75.90 190.47 h2.90 M453.40 190.47 h-2.90 M75.90 182.68 h2.90 M453.40 182.68 h-2.90 M75.90 174.89 h2.90 M453.40 174.89 h-2.90 M75.90 167.10 h4.60 M453.40 167.10 h-4.60 M75.90 159.31 h2.90 M453.40 159.31 h-2.90 M75.90 151.52 h2.90 M453.40 151.52 h-2.90 M75.90 143.73 h2.90 M453.40 143.73 h-2.90 M75.90 135.94 h2.90 M453.40 135.94 h-2.90 M75.90 128.15 h4.60 M453.40 128.15 h-4.60 M75.90 120.36 h2.90 M453.40 120.36 h-2.90 M75.90 112.57 h2.90 M453.40 112.57 h-2.90 M75.90 104.78 h2.90 M453.40 104.78 h-2.90 M75.90 96.99 h2.90 M453.40 96.99 h-2.90 M75.90 89.20 h4.60 M453.40 89.20 h-4.60 M75.90 81.41 h2.90 M453.40 81.41 h-2.90 M75.90 73.62 h2.90 M453.40 73.62 h-2.90 M75.90 65.83 h2.90 M453.40 65.83 h-2.90 M75.90 58.04 h2.90 M453.40 58.04 h-2.90 M75.90 50.25 h4.60 M453.40 50.25 h-4.60 M75.90 42.46 h2.90 M453.40 42.46 h-2.90 M75.90 34.67 h2.90 M453.40 34.67 h-2.90 M75.90 26.88 h2.90 M453.40 26.88 h-2.90 M75.90 19.09 h2.90 M453.40 19.09 h-2.90 M75.90 11.30 h4.60 M453.40 11.30 h-4.60" fill="none" stroke="#777" stroke-width="0.7"/>
<g class="t" font-size="20.7" letter-spacing="-0.6" fill="#000" stroke="#000" stroke-width="0.36">
<text x="71.4" y="251.45" text-anchor="end">0.0</text>
<text x="71.4" y="212.50" text-anchor="end">0.5</text>
<text x="71.4" y="173.55" text-anchor="end">1.0</text>
<text x="71.4" y="134.60" text-anchor="end">1.5</text>
<text x="71.4" y="95.65" text-anchor="end">2.0</text>
<text x="71.4" y="56.70" text-anchor="end">2.5</text>
<text x="71.4" y="17.75" text-anchor="end">3.0</text>
<text x="113.85" y="266.9" text-anchor="middle">0.01</text>
<text x="174.95" y="266.9" text-anchor="middle">1</text>
<text x="235.05" y="266.9" text-anchor="middle">100</text>
<text x="295.25" y="269.6" text-anchor="middle">10<tspan font-size="14" dy="-8.6" dx="-0.3" stroke-width="0.2">4</tspan></text>
<text x="355.85" y="269.6" text-anchor="middle">10<tspan font-size="14" dy="-8.6" dx="-0.3" stroke-width="0.2">6</tspan></text>
<text x="416.45" y="269.6" text-anchor="middle">10<tspan font-size="14" dy="-8.6" dx="-0.3" stroke-width="0.2">8</tspan></text>
</g>
<g class="t" font-size="25" fill="#000">
<text x="265.7" y="306.3" text-anchor="middle" stroke="#000" stroke-width="0.3"><tspan font-style="italic">μ</tspan> (GeV)</text>
<g transform="translate(27.60,200) rotate(-90)" stroke="#000" stroke-width="0.36">
<text transform="translate(23.40,0.00) scale(1.000,1)" font-size="25">(</text>
<text transform="translate(32.66,0.00) scale(1.240,1)" font-size="25" font-style="italic" stroke-width="0.12">ϕ</text>
<rect x="39.2" y="-24.3" width="2.4" height="2.4" stroke="none"/>
<text transform="translate(49.50,6.00) scale(1.000,1)" font-size="18.5" font-style="italic">c</text>
<text transform="translate(58.20,0.00) scale(1.000,1)" font-size="25">/</text>
<text transform="translate(65.20,0.00) scale(1.000,1)" font-size="25">M</text>
<text transform="translate(86.80,0.00) scale(1.080,1)" font-size="25" font-style="italic">μ</text>
<text transform="translate(101.00,0.00) scale(1.000,1)" font-size="25">)</text>
<text transform="translate(109.00,-11.70) scale(1.000,1)" font-size="19" stroke-width="0.15">2</text>
</g>
</g>
</svg>
</body></html>
